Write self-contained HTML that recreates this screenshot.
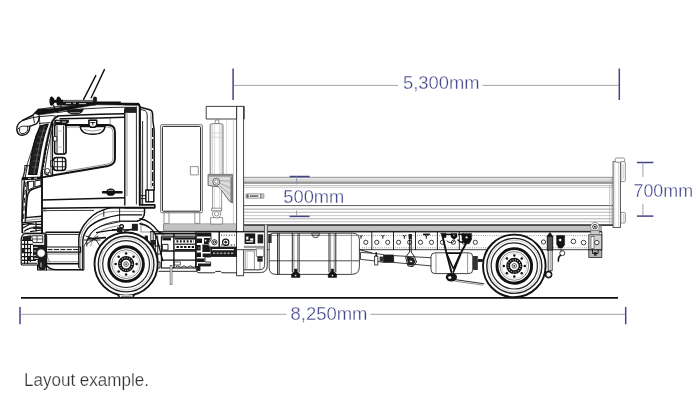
<!DOCTYPE html>
<html lang="en"><head><meta charset="utf-8"><title>Layout example</title>
<style>
html,body{margin:0;padding:0;background:#fff;}
body{width:700px;height:402px;overflow:hidden;font-family:"Liberation Sans",sans-serif;}
svg{display:block;will-change:transform;}
.k{fill:none;stroke:#111;stroke-width:.9;stroke-linecap:round;stroke-linejoin:round}
.k2{fill:none;stroke:#111;stroke-width:1.4;stroke-linecap:round;stroke-linejoin:round}
.k3{fill:none;stroke:#111;stroke-width:1.9;stroke-linecap:round;stroke-linejoin:round}
.t{fill:none;stroke:#222;stroke-width:.5;stroke-linecap:round;stroke-linejoin:round}
.g{fill:none;stroke:#666;stroke-width:.7}
.g2{fill:none;stroke:#777;stroke-width:1.2}
.l{fill:none;stroke:#aaa;stroke-width:.6}
.l2{fill:none;stroke:#c4c4c4;stroke-width:.6}
.w{fill:#fff;stroke:#111;stroke-width:.8;stroke-linejoin:round}
.wg{fill:#fff;stroke:#666;stroke-width:.7;stroke-linejoin:round}
.wl{fill:#fff;stroke:#999;stroke-width:.6;stroke-linejoin:round}
.b{fill:#111;stroke:#111;stroke-width:.5;stroke-linejoin:round}
.d{fill:#333;stroke:#111;stroke-width:.5}
.gf{fill:#c6c6c6;stroke:none}
.gf2{fill:#9a9a9a;stroke:#555;stroke-width:.5}
.dimv{fill:none;stroke:#43438a;stroke-width:1.5}
.dimh{fill:none;stroke:#8c8c9a;stroke-width:.8}
.dimt{fill:#45458c;stroke:#fff;stroke-width:.3;font-family:"Liberation Sans",sans-serif;font-size:18px;}
.cap{fill:#333;stroke:#fff;stroke-width:.25;font-family:"Liberation Sans",sans-serif;font-size:18px;}
</style></head>
<body>
<svg width="700" height="402" viewBox="0 0 700 402">
<rect x="0" y="0" width="700" height="402" fill="#fff"/>
<g id="bed">
<rect class="wl" x="243.6" y="177.2" width="369.6" height="47.6" rx="0" />
<rect x="243.6" y="178.9" width="369.6" height="2.0" fill="#d9d9d9"/>
<rect x="243.6" y="180.9" width="369.6" height="1.3" fill="#bdbdbd"/>
<rect x="243.6" y="182.2" width="369.6" height="1.5" fill="#7d7d7d"/>
<line x1="243.6" y1="177.7" x2="613.2" y2="177.7" stroke="#858585" stroke-width="0.8"/>
<line x1="243.6" y1="185.7" x2="613.2" y2="185.7" stroke="#a2a2a2" stroke-width="0.8"/>
<line x1="243.6" y1="187.5" x2="613.2" y2="187.5" stroke="#c6c6c6" stroke-width="0.8"/>
<line x1="243.6" y1="205.6" x2="613.2" y2="205.6" stroke="#4a4a4a" stroke-width="0.9"/>
<line x1="243.6" y1="209.1" x2="613.2" y2="209.1" stroke="#8e8e8e" stroke-width="0.8"/>
<line x1="243.6" y1="212.3" x2="613.2" y2="212.3" stroke="#a6a6a6" stroke-width="0.8"/>
<line x1="243.6" y1="215.6" x2="613.2" y2="215.6" stroke="#bcbcbc" stroke-width="0.8"/>
<line x1="243.6" y1="218.8" x2="613.2" y2="218.8" stroke="#989898" stroke-width="0.8"/>
<line x1="243.6" y1="221.7" x2="613.2" y2="221.7" stroke="#aaaaaa" stroke-width="0.8"/>
<line x1="243.6" y1="225.1" x2="613.2" y2="225.1" stroke="#3c3c3c" stroke-width="1.7"/>
<rect x="163.5" y="223.7" width="73" height="6.8" fill="#c2c2c2"/>
<line x1="163.5" y1="223.8" x2="236.5" y2="223.8" stroke="#999" stroke-width=".7"/>
<rect class="wg" x="246" y="193.9" width="17.8" height="4.3" rx="0" />
<rect x="247" y="194.9" width="1.6" height="2.3" fill="#fff" stroke="#222" stroke-width=".5"/>
<rect x="260.4" y="194.9" width="1.6" height="2.3" fill="#fff" stroke="#222" stroke-width=".5"/>
<path d="M250.3 195.2v1.8M252.2 195.2v1.8M254 195.2v1.8M255.9 195.2v1.8M257.8 195.2v1.8M250.3 196.1h7.5" stroke="#222" stroke-width=".7" fill="none"/>
<rect x="163.5" y="225.9" width="437.8" height="4.5" fill="#c2c2c2"/>
<line class="g" x1="163.5" y1="223.8" x2="163.5" y2="230.6"/>
<line class="g" x1="601.3" y1="224.8" x2="601.3" y2="230.6"/>
<line x1="163.5" y1="230.8" x2="601.3" y2="230.8" stroke="#666" stroke-width=".6"/>
<rect class="w" x="206.2" y="106.4" width="38" height="12.6" rx="0" />
<rect class="wg" x="236.6" y="106.4" width="7" height="169.3" rx="0" />
<line class="l" x1="233.4" y1="119" x2="233.4" y2="224.6"/>
<line class="k" x1="236.6" y1="106.4" x2="236.6" y2="119"/>
<line class="k" x1="243.6" y1="106.4" x2="243.6" y2="119"/>
<rect x="236.6" y="106.4" width="7" height="169.3" fill="none" stroke="#444" stroke-width=".8"/>
<rect x="613.1" y="161.7" width="7.4" height="65.8" fill="#fff" stroke="#4a4a4a" stroke-width=".9"/>
<line class="l2" x1="614.8" y1="163" x2="614.8" y2="226.6"/>
<line class="l" x1="618.7" y1="163" x2="618.7" y2="226.6"/>
<rect class="wg" x="615.2" y="158" width="9.4" height="4.2" rx="1.2" />
<rect class="wg" x="620.9" y="161.6" width="4.4" height="20" rx="1" />
<line class="l" x1="623.2" y1="164" x2="623.2" y2="179"/>
<rect class="wg" x="620.9" y="212.4" width="4.4" height="10.6" rx="1" />
<line class="l" x1="623.6" y1="214" x2="623.6" y2="222"/>
<line class="l" x1="609.5" y1="185.5" x2="609.5" y2="224"/>
<line class="l" x1="611.3" y1="178" x2="611.3" y2="224"/>
</g>
<g id="chassis">
<rect class="w" x="196" y="231.8" width="405.8" height="17.9" rx="0" />
<line x1="150" y1="231.7" x2="601.8" y2="231.7" stroke="#111" stroke-width="1"/>
<line x1="362" y1="235.6" x2="600" y2="235.6" stroke="#333" stroke-width=".7" stroke-dasharray=".7 1.5"/>
<line x1="362" y1="247.8" x2="600" y2="247.8" stroke="#333" stroke-width=".7" stroke-dasharray=".7 1.5"/>
<circle class="w" cx="365.8" cy="242.3" r="2.1" />
<circle class="w" cx="376.8" cy="242.3" r="2.1" />
<circle class="w" cx="387.7" cy="242.3" r="2.1" />
<circle class="w" cx="398.6" cy="242.3" r="2.1" />
<circle class="w" cx="409.6" cy="242.3" r="2.1" />
<circle class="w" cx="420.5" cy="242.3" r="2.1" />
<circle class="w" cx="431.5" cy="242.3" r="2.1" />
<circle class="w" cx="442.4" cy="242.3" r="2.1" />
<circle class="w" cx="453.4" cy="242.3" r="2.1" />
<circle class="w" cx="464.3" cy="242.3" r="2.1" />
<circle class="w" cx="475.3" cy="242.3" r="2.1" />
<line class="k" x1="371.8" y1="232" x2="371.8" y2="249.6"/>
<line class="k" x1="393.5" y1="232" x2="393.5" y2="249.6"/>
<line class="k" x1="415.5" y1="232" x2="415.5" y2="249.6"/>
<line class="k" x1="437.4" y1="232" x2="437.4" y2="249.6"/>
<line class="k" x1="459.3" y1="232" x2="459.3" y2="249.6"/>
<path class="k" d="M359.8 235.2l1.2 1.6l1.2 -1.6M361 236.8v1.6" />
<path class="k" d="M381.6 235.2l1.2 1.6l1.2 -1.6M382.8 236.8v1.6" />
<path class="k" d="M403.2 235.2l1.2 1.6l1.2 -1.6M404.4 236.8v1.6" />
<path class="k" d="M425.1 235.2l1.2 1.6l1.2 -1.6M426.3 236.8v1.6" />
<rect x="423" y="233.6" width="7" height="1.5" fill="#111"/>
<rect x="446" y="233.6" width="6" height="1.5" fill="#111"/>
<rect x="458" y="233.6" width="6" height="1.5" fill="#111"/>
<circle class="w" cx="543.5" cy="242" r="2.1" />
<circle class="w" cx="573.4" cy="241.4" r="2.3" />
<circle class="w" cx="583.6" cy="242.6" r="2.3" />
<path class="b" d="M546.8 236.6L549.9 232.4L553 236.6Z" />
<rect class="w" x="547.3" y="236.6" width="5.4" height="13.6" rx="0" />
<rect x="547.3" y="236.6" width="5.4" height="13.6" fill="#555" stroke="#111" stroke-width=".7"/>
<rect class="w" x="548.2" y="250.2" width="4" height="20.5" rx="0" />
<line class="g" x1="550.2" y1="250.2" x2="550.2" y2="270"/>
<circle class="w" cx="548.6" cy="274.6" r="2.6" />
<circle cx="548.6" cy="274.6" r="3.2" fill="none" stroke="#111" stroke-width="1.2"/>
<path class="b" d="M556.6 235.4h8v9.5l-2.4 3.2h-3.6l-2 -4Z" />
<circle class="w" cx="560.2" cy="240" r="1.7" />
<circle class="w" cx="562.3" cy="253.2" r="2.5" />
<path class="k2" d="M560.4 255.4q-2.6 2 -2 5.8" />
<line class="k" x1="560.3" y1="249.6" x2="561.6" y2="251"/>
<rect x="588.8" y="234.8" width="13" height="15" fill="#d0d0d0" stroke="#222" stroke-width=".8"/>
<rect x="588.8" y="250" width="13" height="7.5" fill="#b5b5b5" stroke="#222" stroke-width=".8"/>
<rect x="591" y="236.4" width="3" height="12" fill="#fff" stroke="#333" stroke-width=".6"/>
<circle class="w" cx="596.8" cy="242.6" r="2.2" />
<path class="k" d="M592.5 250v3.5h5.6v-3.5" />
<rect x="594" y="252" width="2.6" height="3.6" fill="#222"/>
<circle class="wg" cx="594.9" cy="226.7" r="4.3" />
<circle class="w" cx="594.9" cy="226.7" r="2.3" />
<circle class="b" cx="594.9" cy="226.7" r="0.8" />
<rect x="590.8" y="230.8" width="8.4" height="3.6" fill="#ccc" stroke="#555" stroke-width=".5"/>
<path class="w" d="M273 233.2H352.4Q359.4 233.2 359.4 240.2V266.6Q359.4 274.4 351.6 274.4H276Q269.2 274.4 269.2 267.6V237.2Q269.2 233.2 273 233.2Z" />
<line class="g" x1="269.6" y1="235.4" x2="359" y2="235.4"/>
<line x1="269.4" y1="260.8" x2="359.2" y2="260.8" stroke="#222" stroke-width=".8"/>
<line class="k" x1="277.6" y1="233.4" x2="277.6" y2="274.2"/>
<line class="k" x1="279.2" y1="233.4" x2="279.2" y2="274.2"/>
<line class="g" x1="351.4" y1="233.4" x2="351.4" y2="274.2"/>
<line class="k" x1="292.3" y1="233.4" x2="292.3" y2="272"/>
<line class="g" x1="293.90000000000003" y1="233.4" x2="293.90000000000003" y2="272"/>
<line class="g" x1="297.5" y1="233.4" x2="297.5" y2="272"/>
<line class="k" x1="299.1" y1="233.4" x2="299.1" y2="272"/>
<path class="b" d="M294.5 269h2.4v2.6l3 2.6v3.2h-8.4v-3.2l3 -2.6Z" />
<circle class="w" cx="295.7" cy="275.6" r="1.1" />
<line class="k" x1="329.0" y1="233.4" x2="329.0" y2="272"/>
<line class="g" x1="330.6" y1="233.4" x2="330.6" y2="272"/>
<line class="g" x1="334.2" y1="233.4" x2="334.2" y2="272"/>
<line class="k" x1="335.8" y1="233.4" x2="335.8" y2="272"/>
<path class="b" d="M331.2 269h2.4v2.6l3 2.6v3.2h-8.4v-3.2l3 -2.6Z" />
<circle class="w" cx="332.4" cy="275.6" r="1.1" />
<path class="w" d="M311.8 233.2Q312 237.6 315.6 237.6Q319.2 237.6 319.4 233.2Z" />
<line class="k" x1="312.6" y1="235.2" x2="318.6" y2="235.2"/>
<rect x="244.6" y="233.4" width="10.6" height="10.6" fill="#1a1a1a"/>
<rect x="246.2" y="236.6" width="2.2" height="3" fill="#fff"/>
<rect x="250.2" y="238.4" width="3" height="2.2" fill="#fff"/>
<rect x="246" y="241.2" width="7" height="1.1" fill="#fff"/>
<rect x="257.6" y="234.4" width="5.6" height="9" fill="#222"/>
<rect x="243.8" y="245.8" width="20.6" height="2.3" fill="#999"/>
<rect class="wg" x="245.2" y="251" width="9.2" height="18.8" rx="0" />
<line class="l" x1="247.2" y1="252" x2="247.2" y2="269"/>
<rect class="wg" x="256.4" y="248.8" width="7.4" height="7.6" rx="0" />
<rect x="257.4" y="256.4" width="5.2" height="5.2" fill="#1a1a1a"/>
<line class="g" x1="260" y1="261.6" x2="260" y2="269.8"/>
<line class="l" x1="258.2" y1="258.6" x2="261.8" y2="258.6"/>
<path class="wg" d="M264.6 224.8V264.5Q264.6 269.8 259.3 269.8H243.8V272.6H260.2Q267.3 272.6 267.3 265.4V224.8Z" />
<path d="M264.6 224.8V264.5Q264.6 269.8 259.3 269.8H243.8M243.8 272.6H260.2Q267.3 272.6 267.3 265.4V224.8" fill="none" stroke="#444" stroke-width=".8"/>
<rect x="268.2" y="234" width="3.4" height="9" fill="#333"/>
<rect x="196" y="232" width="40.6" height="24.4" fill="#fff" stroke="#111" stroke-width=".8"/>
<rect x="210" y="246.6" width="26.6" height="9.8" fill="#1c1c1c"/>
<rect x="212" y="249" width="22" height="1.2" fill="#fff"/>
<line x1="213" y1="253.2" x2="234" y2="253.2" stroke="#fff" stroke-width=".9" stroke-dasharray="2.2 1.4"/>
<line class="k2" x1="219.2" y1="232" x2="219.2" y2="246.6"/>
<circle class="w" cx="214.4" cy="242.2" r="2.6" />
<circle class="k" cx="214.4" cy="242.2" r="1.2" />
<circle cx="225.7" cy="242.2" r="3.1" fill="#fff" stroke="#111" stroke-width="1.2"/>
<circle class="b" cx="225.7" cy="242.2" r="1.1" />
<line x1="221" y1="235.2" x2="235" y2="235.2" stroke="#111" stroke-width=".9" stroke-dasharray="1 1.6"/>
<line x1="221" y1="245" x2="235" y2="245" stroke="#111" stroke-width=".9" stroke-dasharray="1.6 1.6"/>
<path class="w" d="M196.4 233H211V240L208 244L211 248V257H205V262H210.6V266H200V270.5H196.4Z" />
<path d="M196.4 233H211V236.4H196.4ZM196.4 238.4H202V243H196.4ZM204 238H210.6L208 244H204ZM196.4 245H200.6V250.6H196.4ZM202.4 244.6H207.6L210.6 248V252H202.4ZM196.4 252.6H201V257H196.4ZM202.6 253.6H210.8V257H202.6ZM196.4 258.6H204.6V262H196.4ZM198 263.6H210.6V266H198ZM196.4 266H200V270.5H196.4Z" fill="#1a1a1a"/>
<circle class="w" cx="205.6" cy="240.6" r="1.3" />
<circle class="w" cx="199" cy="248" r="1" />
<path class="k" d="M159 271.3H196L199 272.8H213.5Q215 272.8 215.8 271.4H220.6Q221.4 272.8 223 272.8H236.6" />
<rect x="161.4" y="237" width="34.2" height="31" fill="#fff" stroke="#111" stroke-width="1.1"/>
<line x1="161.4" y1="251" x2="195.6" y2="251" stroke="#111" stroke-width="1.3"/>
<line x1="161.4" y1="260.2" x2="195.6" y2="260.2" stroke="#111" stroke-width="1.3"/>
<line x1="173.9" y1="233" x2="173.9" y2="268" stroke="#111" stroke-width="1.4"/>
<rect x="175" y="237.6" width="20" height="2" fill="#1a1a1a"/>
<line x1="176.5" y1="241.4" x2="194" y2="241.4" stroke="#111" stroke-width="2.4" stroke-dasharray="1.8 1.6"/>
<rect x="175" y="243.6" width="20" height="1.2" fill="#1a1a1a"/>
<line x1="176.5" y1="247" x2="194" y2="247" stroke="#111" stroke-width="2.2" stroke-dasharray="2.4 1.4"/>
<rect x="175" y="249" width="20" height="1.6" fill="#1a1a1a"/>
<path d="M162.4 237.6H171V240.4H162.4Z" fill="#1a1a1a"/>
<path d="M162.4 244.4H168V250H162.4Z" fill="none" stroke="#111" stroke-width=".9"/>
<path class="k" d="M176 266.6q1.6 -1.6 3.2 0t3.2 0t3.2 0t3.2 0t3.2 0t2.4 0" />
<rect x="174.6" y="262" width="6" height="3" fill="#fff" stroke="#111" stroke-width=".6"/>
<line x1="155" y1="233.6" x2="196" y2="233.6" stroke="#111" stroke-width="1.6"/>
<line x1="161" y1="236" x2="196" y2="236" stroke="#111" stroke-width=".8"/>
<rect x="170.1" y="265.6" width="1.9" height="19" fill="#fff" stroke="#333" stroke-width=".6"/>
<path class="w" d="M360.5 252.4L372 253.2L383.6 254.6V262.4L372 260.6L360.5 259.4Z" />
<path class="w" d="M393.6 255.6L432 257.8V266L393.6 262.4Z" />
<rect x="383.6" y="254.6" width="10" height="8.2" fill="#1a1a1a"/>
<rect x="379.6" y="256.6" width="4" height="5" fill="#333"/>
<rect class="w" x="374.6" y="256" width="3.2" height="9" rx="0" />
<line class="k2" x1="376.2" y1="252.8" x2="376.2" y2="256"/>
<path class="k" d="M360 249.8L372 253" />
<path class="k" d="M409.6 235V252L405.6 257L408 266L413 266.6L416.6 262L414 256L411.2 252V235" />
<path d="M406.6 256.6L413.4 257.6L415.6 262L412.6 265.8L408.2 265Z" fill="#222"/>
<circle class="w" cx="411" cy="261.4" r="1.4" />
<rect x="408.6" y="234" width="3.2" height="5" fill="#222"/>
<rect class="w" x="431" y="252.8" width="41.8" height="20.8" rx="4" />
<line class="g" x1="436" y1="253" x2="436" y2="273.4"/>
<line class="g" x1="467.6" y1="253" x2="467.6" y2="273.4"/>
<path class="k3" d="M442.6 236.4L446.2 252L451.4 272" />
<path class="k3" d="M469 238L461.4 252L453.4 272" />
<path class="k2" d="M446.6 253.2H460.6L453.4 268.6Z" />
<ellipse cx="451.4" cy="277.2" rx="5.6" ry="4.2" fill="#151515"/>
<ellipse cx="449.8" cy="277.6" rx="1.6" ry="1.3" fill="#fff"/>
<path class="k" d="M455 279.6L484 283.8" />
<path class="g" d="M455 281.2L483 285.2" />
<path class="b" d="M440.6 233.2h5.4v4.4h-3.2Z" />
<path class="b" d="M451 233.4h6v3.6l-3 2.6l-3 -2.6Z" />
<path class="b" d="M462 233.4h9.6v6l-2.4 4.4h-4.4l-2.8 -4Z" />
<circle class="w" cx="466.6" cy="237.4" r="1.4" />
<circle class="w" cx="453.8" cy="235.4" r="0.9" />
<path class="k2" d="M458 240q3 3.6 6.6 1.6" />
<path class="k" d="M447 241q3.4 3.2 7 .6" />
<rect x="472.8" y="256" width="5" height="14" fill="#333"/>
<rect x="477.8" y="259" width="5" height="3" fill="#222"/>
</g>
<g id="behind-cab">
<rect x="160.6" y="124.6" width="41.8" height="88.2" rx="1.5" fill="#fff" stroke="#666" stroke-width=".9"/>
<rect x="162.4" y="126.4" width="38.2" height="84.8" rx="1" fill="none" stroke="#222" stroke-width="1"/>
<rect class="wg" x="190.4" y="166.6" width="7.9" height="8.3" rx="0" />
<rect class="wg" x="164" y="212.8" width="5" height="10.6" rx="0" />
<rect class="wg" x="194.8" y="212.8" width="5" height="10.6" rx="0" />
<rect class="wg" x="215.2" y="120" width="3.6" height="3.8" rx="0" />
<rect x="210.2" y="123.8" width="12.8" height="62" rx="1.5" fill="#f1f1f1" stroke="#555" stroke-width=".8"/>
<rect x="213.4" y="124.4" width="6.4" height="61" fill="#fff"/>
<line class="l2" x1="212.4" y1="125" x2="212.4" y2="185"/>
<line class="l2" x1="214.6" y1="125" x2="214.6" y2="185"/>
<line class="l2" x1="219.4" y1="125" x2="219.4" y2="185"/>
<line class="l2" x1="221.4" y1="125" x2="221.4" y2="185"/>
<line class="l2" x1="210.2" y1="133" x2="223.4" y2="133"/>
<line class="l2" x1="210.2" y1="137.2" x2="223.4" y2="137.2"/>
<rect class="wg" x="212.6" y="185.8" width="9" height="25" rx="0" />
<line class="l2" x1="214.6" y1="186" x2="214.6" y2="210"/>
<line class="l2" x1="219.6" y1="186" x2="219.6" y2="210"/>
<rect class="wg" x="210.6" y="217.6" width="12" height="6.4" rx="0" />
<circle class="wg" cx="216.6" cy="213.8" r="4.2" />
<circle class="wg" cx="216.6" cy="213.8" r="2.2" />
<rect class="wg" x="211.6" y="208.2" width="10" height="2.6" rx="0" />
<path d="M208.1 174.4H232.4V203L229.6 201.4L219.1 186.9L208.1 185.4Z" fill="#d6d6d6" stroke="#5a5a5a" stroke-width=".9" stroke-linejoin="round"/>
<path d="M208.1 174.4H232.4V176.6H208.1Z" fill="#8c8c8c"/>
<path d="M230.4 177H232.4V203L230.4 201.6Z" fill="#7c7c7c"/>
<path d="M219.6 179.4L230.2 178.4M220 182L230.2 184.6M219.6 184.6L230.2 191M219 186.4L230.2 198" fill="none" stroke="#e2e2e2" stroke-width="1.1"/>
<path d="M219.6 180.6L230.2 181.2M220 183.4L230.2 187.8M219.4 185.6L230.2 194.6" fill="none" stroke="#8a8a8a" stroke-width=".5"/>
<circle cx="216.3" cy="181.8" r="3.5" fill="#e8e8e8" stroke="#555" stroke-width=".9"/>
<circle cx="216.3" cy="181.8" r="1.7" fill="#fff" stroke="#666" stroke-width=".6"/>
<line class="l2" x1="226.6" y1="119" x2="226.6" y2="174.4"/>
</g>
<g id="cab">
<path class="w" d="M38.6 109.3L58 106.4L100 103.2L137 103.6Q140 104 140.4 108L141 205H154.8V208H144.6V213Q144 219 137.5 221L120 221Q104 222 92 232L84 246V270H46V233H22L21.8 180L27 165L40 125Z" stroke="none"/>
<path d="M34.8 113.4L36 112L38.6 109.2L51 108.6L60 107.4L70 106L80 104.4L90 102.8L96.6 101.8H120.6V103L138.3 103.2Q139.7 104 139.7 105.2L120.6 105L96.6 104.8L90 105.8L80 107.6L70 109.4L60 111.2L56 112.6L38.6 115Z" fill="#111" stroke="#111" stroke-width=".5" stroke-linejoin="round"/>
<path class="k" d="M57 112.6L70 110.8L85 108.8L110 107.5L124 107.2" />
<path class="k2" d="M57.6 116Q80 114.9 100 114.2L124 113.7" />
<path class="k2" d="M60 118.8L100 118L124 117.3" />
<line class="t" x1="110.1" y1="118" x2="110.1" y2="124.4"/>
<path d="M66.2 109.6Q67 114.6 75 114.6Q83 114.6 83.8 108.6Z" fill="#1a1a1a"/>
<path d="M70 112.6h10" stroke="#fff" stroke-width=".5"/>
<rect x="60" y="101.4" width="34" height="3.8" fill="#151515"/>
<line x1="61" y1="100.4" x2="93.6" y2="100.4" stroke="#111" stroke-width=".7"/>
<path d="M66 103.4h5M73 103.2h3M79 103.6h7" stroke="#fff" stroke-width=".8"/>
<rect x="93.4" y="97" width="3.2" height="8" rx="1.2" fill="#1a1a1a" stroke="#111" stroke-width=".6"/>
<ellipse cx="51.6" cy="101.2" rx="2.1" ry="4.6" fill="#111"/>
<ellipse cx="53.2" cy="101.2" rx="1.2" ry="3.4" fill="#111"/>
<ellipse cx="58.4" cy="101.2" rx="2.1" ry="4.6" fill="#111"/>
<ellipse cx="60.0" cy="101.2" rx="1.2" ry="3.4" fill="#111"/>
<rect x="51" y="99.8" width="12" height="3" fill="#111"/>
<path d="M53.4 105.4l1.8 3.4M60.4 105.4l1.2 2.4" stroke="#111" stroke-width="1.3"/>
<path d="M83.6 99.4L95.8 75.6" stroke="#111" stroke-width="1.4" stroke-linecap="round"/>
<path d="M91.2 97.8L104.4 69.6" stroke="#111" stroke-width="1.4" stroke-linecap="round"/>
<path class="k3" d="M137.6 103.6Q139.6 104.2 139.7 107V205" />
<path class="k" d="M136.4 107V204" />
<path class="k2" d="M139.6 107L146 108.7L150.6 110Q152.5 110.8 152.7 114L152.9 121L154.2 130V190" />
<path class="k" d="M140.6 109.4L145 110.6Q147.2 111.6 147.2 115V190" />
<path class="k" d="M142.6 121.4V205" />
<path class="g" d="M151 112V188" />
<path d="M138 116V200" stroke="#fff" stroke-width=".7" stroke-dasharray="1.2 7" fill="none"/>
<path d="M152.6 128V186" stroke="#111" stroke-width="1.2" stroke-dasharray="9 2" fill="none"/>
<path d="M124.3 107H136.2V112.9H124.3Z" fill="#222"/>
<path class="t" d="M125 105.8H137" />
<rect class="w" x="145.8" y="190" width="8" height="11.8" rx="0" />
<rect x="145.8" y="190" width="8" height="11.8" fill="none" stroke="#111" stroke-width="1.2"/>
<line class="k" x1="148.6" y1="190" x2="148.6" y2="201.8"/>
<path class="k" d="M140.6 195.6H145.8M140.6 198.6H145.8" />
<path class="k2" d="M140.4 204.8H154.8V207.8H125" />
<path class="k2" d="M124.8 110V205" />
<path class="g" d="M127 112V196" />
<path class="k3" d="M66 125H108Q115 125 115 132V158.6Q115 164.6 108 166L54.9 175L42.4 177.4" />
<path class="t" d="M67 127H107.6Q113 127 113 132.4V158Q113 163 107 164.2L66 171.2" />
<path class="k2" d="M80.2 126.2Q80.6 134.2 92.6 134.2Q104.6 134.2 105 126.2Z" />
<path class="g" d="M84 129.6Q92.6 132.6 101.4 129.6" />
<path class="w" d="M88.9 120.2H96.7V124.4Q96.5 127.4 92.8 127.4Q89.1 127.4 88.9 124.4Z" />
<path class="k2" d="M88.9 120.2H96.7V124.4Q96.5 127.4 92.8 127.4Q89.1 127.4 88.9 124.4Z" />
<path class="k" d="M90.6 122.6H95M92.8 122.6V125" />
<path d="M54.3 119.8H68.9V122.4L66 124.6H54.3Z" fill="#1c1c1c"/>
<path d="M56 121.4h4M62 122h4" stroke="#fff" stroke-width=".9"/>
<path class="k3" d="M42 172V238" />
<line x1="42" y1="200.1" x2="124.8" y2="197.7" stroke="#111" stroke-width="1.5"/>
<line x1="42" y1="208.3" x2="110" y2="207.6" stroke="#111" stroke-width="1.5"/>
<line x1="42" y1="210.6" x2="94" y2="210.4" stroke="#222" stroke-width=".9"/>
<rect x="42" y="209.6" width="4.6" height="1.8" fill="#555"/>
<line x1="110" y1="207.6" x2="154.6" y2="207.6" stroke="#111" stroke-width="1.5"/>
<path d="M103 191H106.4Q107 188.4 110.6 188.4Q114.4 188.4 115 191H121.6Q122.8 191 122.8 192.2Q122.8 193.4 121.6 193.4H115Q114.4 195.8 110.6 195.8Q107 195.8 106.4 193.4H103Q101.8 193.4 101.8 192.2Q101.8 191 103 191Z" fill="#111"/>
<path d="M108 190.4h5.4" stroke="#fff" stroke-width=".6"/>
<path d="M40.6 125.8L48.2 124.2Q44 134 41 150L36.8 174.4H28.6Q31.6 150 36 136Z" fill="#1f1f1f" stroke="#111" stroke-width="1.2" stroke-linejoin="round"/>
<path d="M39.6 131h6.4M38 137h6.6M36.6 143h6.6M35.4 149h6.4M34.2 155h6.4M33 161h6.4M31.8 167h6.4" stroke="#777" stroke-width=".5" fill="none"/>
<path d="M44.6 126Q40.6 138 38 152L34 174" stroke="#999" stroke-width=".5" fill="none"/>
<path class="k3" d="M57.6 116.4Q53 118.4 51.4 124Q47.6 138 45 152L41 177" />
<path class="k" d="M56.4 120Q54 121.6 53.2 125Q49.6 140 47.2 154L44.2 174" />
<path class="t" d="M49.4 128Q46 140 43 158L40.4 174" />
<path d="M47.8 140L43 170" stroke="#111" stroke-width="1" stroke-dasharray="2.2 2" fill="none"/>
<path class="k" d="M38 116.8L51 115.6Q56 115.6 57.4 116.8" />
<path class="k" d="M39.4 123.4L50 122.6" />
<path class="k2" d="M38.6 109.3L32.4 115.5L22.4 120.5Q18 123 17 127Q16.2 132 19.4 134.6Q22.6 136 26.4 134Q29.8 131.4 29.8 126.4L36.8 123.6Q39.2 121 39.3 116.8" />
<path class="k" d="M29.8 126.2H22.4Q19 126.6 18 129" />
<path class="k" d="M19.6 128.4Q18.6 132 21 133.6Q24.4 134.4 27 131.6Q28.4 129 27.6 126.4" />
<path class="k" d="M22.4 120.5L32.8 117.6L38 116.8" />
<path class="k" d="M33.2 115.6L34.4 122.8" />
<path class="k" d="M25 165.6H29.4M25 165.6L23.6 177.6M27.4 165.6L25.2 177.6" />
<path d="M21.8 177.2L42.4 176.6V179.6L21.8 180.2Z" fill="#111"/>
<path d="M28 178.4h3M34 178.2h3" stroke="#fff" stroke-width=".8"/>
<rect class="w" x="54.6" y="124.6" width="11.6" height="29.6" rx="2.2" />
<rect x="54.6" y="124.2" width="11.4" height="29.8" rx="2.2" fill="none" stroke="#111" stroke-width="1.5"/>
<path class="k" d="M57 126V152.6M63.6 126V152.6" />
<path class="l" d="M55 147H66M55 131H66" />
<rect class="w" x="53.4" y="136.6" width="3.4" height="4.4" rx="0" />
<rect class="w" x="53.2" y="157.6" width="12.6" height="12.8" rx="2.6" />
<rect x="53.6" y="157.4" width="12" height="13" rx="2.8" fill="none" stroke="#111" stroke-width="1.5"/>
<path class="k" d="M57.4 158V170M62.4 158.4V169.8M54 161.6H65.4M54 166.8H65.4" />
<rect class="w" x="50.6" y="160.6" width="3.6" height="6" rx="0" />
<path class="k2" d="M52.4 122.6V176" />
<path class="t" d="M50.6 128V176" />
<circle class="w" cx="47.4" cy="170.8" r="2.3" />
<circle class="w" cx="49.6" cy="174.2" r="1.6" />
<path d="M45 173.6L50.6 176.8" stroke="#111" stroke-width="1.4"/>
<path d="M24.4 180.4Q22.6 200 22 222.6" stroke="#111" stroke-width="1.5" fill="none"/>
<path d="M27.6 181Q25.6 200 25.2 222" stroke="#111" stroke-width="1.2" fill="none"/>
<path d="M26 182Q24 200 23.6 221" stroke="#111" stroke-width="1" stroke-dasharray="5 3" fill="none"/>
<path class="k2" d="M26 218Q26.4 200 28 194Q29 190.6 33 189L41.6 186.2" />
<path class="k2" d="M26 217.6L41.6 216.2" />
<path class="t" d="M25.6 220.4L41.6 218.8" />
<path d="M28.3 181.6L33.7 181V187.6Q30 188.6 28.3 190.6ZM34.9 180.8L40.9 180.2V185.4L34.9 187Z" fill="#fff" stroke="#111" stroke-width="1"/>
<path d="M22.6 222.6L41.6 221.4M22.6 224.6L34 222.6M23 228L30 224L41.6 224.4M24 231.4Q30 226.4 41.6 227.6M30 231.6L41.6 230M36 222V232" fill="none" stroke="#111" stroke-width="1.2"/>
<path d="M22.4 222.6V233" stroke="#111" stroke-width="1.4"/>
<path d="M33 226.6h8.6v2.4h-8.6Z" fill="#222"/>
<path d="M25.4 233.6H42.6Q46.4 233.6 46.6 236.6V262.4H46.4V270H37.6V265H22Q21.2 265 21.2 263.8V239Q21.6 234.4 25.4 233.6Z" fill="#fff" stroke="#111" stroke-width="1.2" stroke-linejoin="round"/>
<path d="M22 240.4H32M22 244.4H33M22 248.6H31M22 252.6H32M22 256.6H33M22 260.4H36M22 263.2H37M24.6 238V264M27.6 240V264M30.4 244V262" fill="none" stroke="#111" stroke-width="1.1"/>
<path d="M22.6 236.6L31 235.2V240H22.6Z" fill="#222"/>
<rect x="22" y="249" width="3" height="3.4" fill="#222"/>
<rect x="27.6" y="257" width="3" height="3.2" fill="#222"/>
<path d="M31.6 235.8H42.8V242.6H33Z" fill="#fff" stroke="#111" stroke-width=".9"/>
<path d="M33 239h9.6M37 236v6.6" stroke="#111" stroke-width=".7"/>
<path d="M33 244.8H47V260H33Z" fill="#1c1c1c"/>
<path d="M44.2 234.4H46.8V245H44.2Z" fill="#1c1c1c"/>
<circle cx="41.1" cy="253.1" r="4.2" fill="#fff" stroke="#111" stroke-width=".8"/>
<path d="M33.6 247.4h4M33.6 251h2.6M33.6 255.4h2.6M34 258.4h4" stroke="#fff" stroke-width=".8"/>
<path d="M37.6 260H46.4V266.4L44.4 270H39.6L37.6 266.4Z" fill="#1c1c1c"/>
<path d="M41 262.6v4.6" stroke="#fff" stroke-width=".8"/>
<path class="k2" d="M46 232.2H80" />
<path class="k" d="M46 234.4H79.6" />
<path d="M46.4 247H80.6V252.2H46.4Z" fill="#fff" stroke="#111" stroke-width="1.2"/>
<path d="M47.6 249.6H79.6" stroke="#111" stroke-width="1" stroke-dasharray="5 1.4"/>
<path class="t" d="M46.4 254H80" />
<path class="k2" d="M46.4 263.8H78.6" />
<path class="k2" d="M47 266Q50 269.6 56 269.6H82.6" />
<path class="t" d="M46.4 261.8H78.6" />
<path class="t" d="M49.6 262Q47 258 47 254" />
<path class="k2" d="M78.8 267V238Q79.4 232 84 225Q92 213.6 104 209.6Q108 207.9 112 207.9H144.5V213Q144 219.6 137.5 221" />
<path class="k2" d="M82.8 270V240Q83.4 234 88 228Q94 222 103 219Q110 216.6 119.6 214.9H141.6" />
<path class="t" d="M80.8 268V238.6Q81.4 232 86 226Q93.4 216.4 104 212.8Q108 211.6 114 211.4H143.6" />
<path class="k" d="M86.8 246V241Q88 235 94 230Q100 225.6 107 224.4Q112 223.4 121.6 221.4H137.5" />
<path class="t" d="M90.8 246Q92 238 98 233Q104 228.6 110 227.4L122 225" />
<line class="k" x1="103.8" y1="209.8" x2="103.8" y2="216.4"/>
<line class="k" x1="119.6" y1="208" x2="119.6" y2="221.4"/>
<path class="k" d="M78.8 267Q80 270 82.8 270" />
<path class="k2" d="M139.9 218.8Q146 219.8 150 223Q154.6 226.6 157.7 230.8Q160 233.6 164 233.7" />
<path class="k2" d="M139.9 223.8Q146 224.6 150 228Q155 232 157 238.6L162.7 260.6" />
<path class="t" d="M141 222V232H150" />
<path d="M131.9 223.8H137.9V230.8H131.9Z" fill="#1d1d1d"/>
<path d="M144.6 235.6h3.4v4.4h-3.4Z" fill="#1d1d1d"/>
<line x1="112" y1="229.8" x2="132" y2="229.8" stroke="#111" stroke-width="1.3"/>
<circle class="k2" cx="121.6" cy="226.4" r="1.8" />
<path class="k" d="M86 236L96 240L100 246M84 240H100M87 244L98 236" />
<path d="M88 238.8L106 237.6" stroke="#111" stroke-width="1.6" fill="none"/>
<path d="M96 232.6L110 230.4L118 230" stroke="#111" stroke-width="1.1" fill="none"/>
<path d="M117 227.4h5.4v4.8h-5.4Z" fill="#1d1d1d"/>
<path d="M124 231.4L131.9 229" stroke="#111" stroke-width="1.2" fill="none"/>
<path class="k" d="M150.8 232V268M153.2 232V270M155.4 234V270M157.7 236V262M150 246H160M150 254H161" />
<path d="M151 240h5v5h-5Z" fill="#222"/>
<path class="k" d="M147 262H160V268H147Z" />
</g>
<g id="wheels">
<g transform="translate(126.1 264.1)">
<circle r="31.6" fill="#fff" stroke="#111" stroke-width="1.9"/>
<circle r="27.8" fill="none" stroke="#222" stroke-width="1.4"/>
<circle r="25.900000000000002" fill="none" stroke="#aaa" stroke-width=".6"/>
<circle r="23.400000000000002" fill="none" stroke="#222" stroke-width="1.2"/>
<circle r="17.3" fill="none" stroke="#111" stroke-width="2.9"/>
<circle r="14.4" fill="none" stroke="#777" stroke-width=".9"/>
<circle r="12.6" fill="none" stroke="#bbb" stroke-width=".6"/>
<circle r="6.2" fill="none" stroke="#111" stroke-width="3.8"/>
<circle r="6.2" fill="none" stroke="#ddd" stroke-width="1.1" stroke-dasharray=".9 1.53"/>
<circle r="2.3" fill="none" stroke="#333" stroke-width=".8"/>
<circle r=".9" fill="#222"/>
<circle cx="10.50" cy="0.00" r="1.25" fill="#111"/>
<circle cx="7.42" cy="7.42" r="1.25" fill="#111"/>
<circle cx="0.00" cy="10.50" r="1.25" fill="#111"/>
<circle cx="-7.42" cy="7.42" r="1.25" fill="#111"/>
<circle cx="-10.50" cy="0.00" r="1.25" fill="#111"/>
<circle cx="-7.42" cy="-7.42" r="1.25" fill="#111"/>
<circle cx="-0.00" cy="-10.50" r="1.25" fill="#111"/>
<circle cx="7.42" cy="-7.42" r="1.25" fill="#111"/>
</g>
<rect x="119.5" y="295" width="13" height="2.2" fill="#fff"/>
<path d="M117.6 295.2L119.6 297M134.6 295.2L132.6 297" stroke="#111" stroke-width="1.2" fill="none"/>
<line x1="121" y1="296.2" x2="131.5" y2="296.2" stroke="#333" stroke-width=".8"/>
<g transform="translate(514.3 265.9)">
<circle r="31.3" fill="#fff" stroke="#111" stroke-width="1.9"/>
<circle r="27.5" fill="none" stroke="#222" stroke-width="1.4"/>
<circle r="25.6" fill="none" stroke="#aaa" stroke-width=".6"/>
<circle r="23.1" fill="none" stroke="#222" stroke-width="1.2"/>
<circle r="17.3" fill="none" stroke="#111" stroke-width="2.9"/>
<circle r="14.4" fill="none" stroke="#777" stroke-width=".9"/>
<circle r="12.6" fill="none" stroke="#bbb" stroke-width=".6"/>
<circle r="6.2" fill="none" stroke="#111" stroke-width="3.8"/>
<circle r="6.2" fill="none" stroke="#ddd" stroke-width="1.1" stroke-dasharray=".9 1.53"/>
<circle r="2.3" fill="none" stroke="#333" stroke-width=".8"/>
<circle r=".9" fill="#222"/>
<circle cx="10.50" cy="0.00" r="1.25" fill="#111"/>
<circle cx="7.42" cy="7.42" r="1.25" fill="#111"/>
<circle cx="0.00" cy="10.50" r="1.25" fill="#111"/>
<circle cx="-7.42" cy="7.42" r="1.25" fill="#111"/>
<circle cx="-10.50" cy="0.00" r="1.25" fill="#111"/>
<circle cx="-7.42" cy="-7.42" r="1.25" fill="#111"/>
<circle cx="-0.00" cy="-10.50" r="1.25" fill="#111"/>
<circle cx="7.42" cy="-7.42" r="1.25" fill="#111"/>
</g>
</g>
<g id="dims">
<line x1="21" y1="297.8" x2="618" y2="297.8" stroke="#111" stroke-width="1.8"/>
<line class="dimv" x1="233.1" y1="68.5" x2="233.1" y2="100"/>
<line class="dimv" x1="619.3" y1="68.5" x2="619.3" y2="100"/>
<line class="dimh" x1="233.5" y1="85.4" x2="398" y2="85.4"/>
<line class="dimh" x1="482.5" y1="85.4" x2="619" y2="85.4"/>
<text class="dimt" x="403" y="88.8" textLength="76.5" lengthAdjust="spacingAndGlyphs">5,300mm</text>
<line class="dimv" x1="20" y1="307" x2="20" y2="324.3"/>
<line class="dimv" x1="625.7" y1="307" x2="625.7" y2="324.3"/>
<line class="dimh" x1="20.5" y1="314.3" x2="286.3" y2="314.3"/>
<line class="dimh" x1="370.3" y1="314.3" x2="625.5" y2="314.3"/>
<text class="dimt" x="290.5" y="319.5" textLength="77" lengthAdjust="spacingAndGlyphs">8,250mm</text>
<line class="dimv" x1="289.6" y1="176.5" x2="309.6" y2="176.5"/>
<line class="dimv" x1="289.6" y1="216.4" x2="309.6" y2="216.4"/>
<line class="dimh" x1="296.6" y1="176.5" x2="296.6" y2="184.4"/>
<line class="dimh" x1="296.6" y1="210.5" x2="296.6" y2="216.4"/>
<text class="dimt" x="283.3" y="203.2" textLength="61" lengthAdjust="spacingAndGlyphs">500mm</text>
<line class="dimv" x1="636.9" y1="162.5" x2="653.4" y2="162.5"/>
<line class="dimv" x1="636.9" y1="216.1" x2="653.4" y2="216.1"/>
<line class="dimh" x1="642.9" y1="162.5" x2="642.9" y2="176.9"/>
<line class="dimh" x1="642.9" y1="203.8" x2="642.9" y2="216.1"/>
<text class="dimt" x="633.5" y="196.8" textLength="59.5" lengthAdjust="spacingAndGlyphs">700mm</text>
<text class="cap" x="24" y="385.5" textLength="125" lengthAdjust="spacingAndGlyphs">Layout example.</text>
</g>
</svg>
</body></html>
